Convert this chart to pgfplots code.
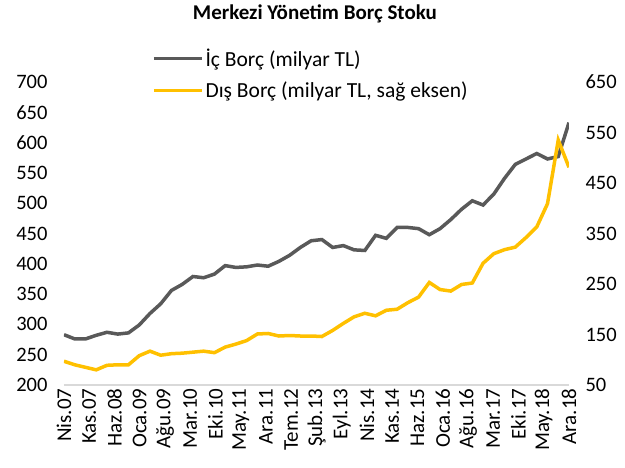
\documentclass[border=0pt]{standalone}
\usepackage{fontspec}
\setmainfont{Carlito}
\usepackage{pgfplots}
\usepackage{pgfplotstable}
\pgfplotsset{compat=1.18}
\definecolor{icgray}{HTML}{595959}
\definecolor{disyel}{HTML}{FFC000}
\definecolor{axgray}{HTML}{D9D9D9}

% quarterly points, i = 0 (Nis.07) ... 47 (Ara.18)
\pgfplotstableread{
i  ic  dis
0  283 97
1  276 90
2  276 85
3  282 80
4  287 89
5  284 90
6  286 90
7  299 108
8  318 117
9  334 109
10 356 112
11 366 113
12 379 115
13 377 117
14 383 114
15 397 125
16 394 131
17 395 138
18 398 151
19 396 152
20 404 147
21 414 148
22 427 147
23 438 147
24 440 146
25 427 158
26 430 172
27 423 185
28 422 192
29 447 187
30 442 198
31 460 200
32 460 213
33 458 224
34 448 253
35 458 239
36 473 236
37 490 249
38 504 252
39 497 291
40 515 310
41 541 318
42 564 323
43 573 342
44 582 363
45 573 409
46 577 535
47 633 481
}\borc

\begin{document}
\begin{tikzpicture}
\pgfplotsset{
  common/.style={
    scale only axis, width=505pt, height=303pt,
    xmin=0, xmax=47,
    tick style={draw=none},
    /pgf/number format/assume math mode=true,
    tick label style={font=\fontsize{20.5}{24}\selectfont, text=black},
  },
}
\begin{axis}[common,
  ymin=200, ymax=700, ytick={200,250,...,700},
  axis x line*=bottom, axis y line*=left,
  x axis line style={draw=axgray, line width=1.5pt, -},
  y axis line style={draw=none},
  xtick={0,2.35,4.7,7.05,9.4,11.75,14.1,16.45,18.8,21.15,23.5,25.85,28.2,30.55,32.9,35.25,37.6,39.95,42.3,44.65,47},
  xticklabels={Nis.07,Kas.07,Haz.08,Oca.09,Ağu.09,Mar.10,Eki.10,May.11,Ara.11,Tem.12,Şub.13,Eyl.13,Nis.14,Kas.14,Haz.15,Oca.16,Ağu.16,Mar.17,Eki.17,May.18,Ara.18},
  xticklabel style={rotate=90, anchor=east, font=\fontsize{21}{24}\selectfont},
  yticklabel style={xshift=-13pt},
  title={Merkezi Yönetim Borç Stoku},
  title style={font=\bfseries\fontsize{21}{24}\selectfont, at={(0.497,1.205)}, anchor=center},
]
\addplot[icgray, line width=3.5pt] table[x=i, y=ic] {\borc};
\end{axis}
\begin{axis}[common,
  ymin=50, ymax=650, ytick={50,150,...,650},
  axis y line*=right, hide x axis,
  y axis line style={draw=none},
  yticklabel style={xshift=13pt},
  legend cell align=left,
  legend image code/.code={\draw[#1] (0pt,0pt) -- (48pt,0pt);},
  legend style={at={(0.174,1.11)}, anchor=north west, draw=none, fill=none,
    font=\fontsize{21.5}{25}\selectfont, row sep=14pt, inner sep=0pt,
    nodes={inner xsep=2pt, inner ysep=0pt}},
]
\addlegendimage{icgray, line width=3.5pt}
\addlegendentry{İç Borç (milyar TL)}
\addplot[disyel, line width=3.5pt] table[x=i, y=dis] {\borc};
\addlegendentry{Dış Borç (milyar TL, sağ eksen)}
\end{axis}
\pgfresetboundingbox
\path (-64pt,-83pt) rectangle (561pt,385pt);
\end{tikzpicture}
\end{document}
